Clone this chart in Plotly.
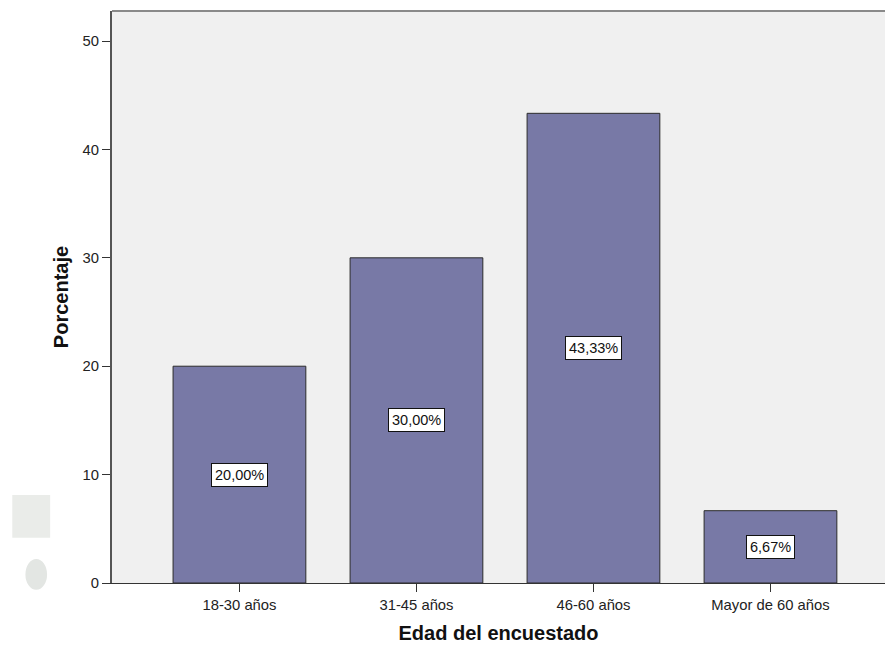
import plotly.graph_objects as go

# Distribución de la muestra por grupo de edad
categorias = ["18-30 años", "31-45 años", "46-60 años", "Mayor de 60 años"]
porcentajes = [20.00, 30.00, 43.33, 6.67]
etiquetas = ["20,00%", "30,00%", "43,33%", "6,67%"]
y_ticks = [0, 10, 20, 30, 40, 50]

x_pos = list(range(len(categorias)))
FUENTE = "Liberation Sans, Arial"

fig = go.Figure()
fig.add_trace(go.Bar(
    x=x_pos,
    y=porcentajes,
    width=0.75,
    marker=dict(color="#7879A6", line=dict(color="#2b2b2b", width=1)),
    hoverinfo="skip",
))

# Etiquetas de porcentaje en cajas blancas a media altura de cada barra
for xi, v, txt in zip(x_pos, porcentajes, etiquetas):
    fig.add_annotation(
        x=xi, y=v / 2, text=txt, showarrow=False,
        font=dict(family=FUENTE, size=14.5, color="#111"),
        bgcolor="white", bordercolor="#111", borderwidth=1, borderpad=3,
    )

# Borde superior del área de trazado
fig.add_shape(type="line", xref="paper", yref="paper", x0=0, x1=1, y0=1, y1=1,
              line=dict(color="#8a8a8a", width=2))

# Marca de agua tenue en la esquina inferior izquierda
fig.add_shape(type="rect", xref="paper", yref="paper", x0=-0.129, x1=-0.080, y0=0.079, y1=0.154,
              fillcolor="#eaece9", line=dict(width=0), layer="below")
fig.add_shape(type="circle", xref="paper", yref="paper", x0=-0.112, x1=-0.084, y0=-0.012, y1=0.042,
              fillcolor="#e3e6e3", line=dict(width=0), layer="below")

fig.update_layout(
    width=885, height=645,
    margin=dict(l=112, r=0, t=11, b=62),
    paper_bgcolor="white",
    plot_bgcolor="#f0f0f0",
    showlegend=False,
    font=dict(family=FUENTE, size=14.8, color="#222"),
    xaxis=dict(
        range=[-0.72, 3.647],
        tickmode="array", tickvals=x_pos, ticktext=categorias,
        ticks="outside", ticklen=8, tickcolor="#333", tickwidth=1,
        showline=True, linecolor="#333", linewidth=1,
        showgrid=False, zeroline=False,
        tickfont=dict(size=14.8, color="#222"),
        title=dict(text="<b>Edad del encuestado</b>", font=dict(size=20, color="#111"), standoff=14),
    ),
    yaxis=dict(
        range=[0, 52.77],
        tickmode="array", tickvals=y_ticks,
        ticks="outside", ticklen=8, tickcolor="#333", tickwidth=1,
        showline=True, linecolor="#555", linewidth=2,
        showgrid=False, zeroline=False,
        tickfont=dict(size=14.8, color="#222"),
        title=dict(text="<b>Porcentaje</b>", font=dict(size=20, color="#111"), standoff=9),
    ),
)

fig.write_html("out.html")
